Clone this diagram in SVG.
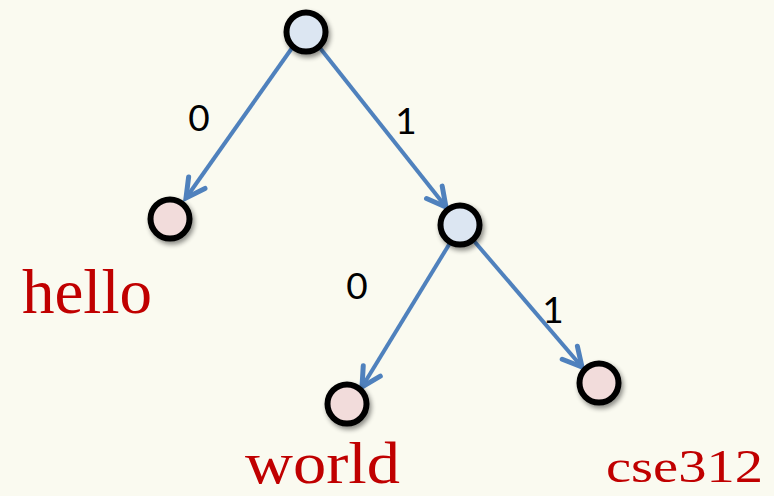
<svg xmlns="http://www.w3.org/2000/svg" width="774" height="496" viewBox="0 0 774 496">
<style>
.node circle{stroke:#000;stroke-width:6;filter:url(#sh)}
.inner circle{fill:#dce6f2}
.leaf circle{fill:#f2dcdb}
.edge{stroke:#4f81bd;stroke-width:4;fill:none;marker-end:url(#arr)}
.bit{font-family:"Lato","Liberation Sans",sans-serif;font-size:37px;fill:#000;text-anchor:middle}
.word{font-family:"Liberation Serif","DejaVu Serif",serif;fill:#c00000}
</style>
<defs>
<filter id="sh" x="-50%" y="-50%" width="200%" height="200%">
<feGaussianBlur in="SourceAlpha" stdDeviation="2.5"/>
<feOffset dx="2" dy="3" result="b"/>
<feComponentTransfer><feFuncA type="linear" slope="0.45"/></feComponentTransfer>
<feMerge><feMergeNode/><feMergeNode in="SourceGraphic"/></feMerge>
</filter>
<marker id="arr" markerUnits="userSpaceOnUse" markerWidth="30" markerHeight="30" viewBox="-20 -10 24 20" refX="0" refY="0" orient="auto">
<path d="M-15,-8 L0,0 L-15,8" fill="none" stroke="#4f81bd" stroke-width="4" stroke-linecap="round" stroke-linejoin="miter"/>
</marker>
</defs>
<rect width="774" height="496" fill="#fafaf0"/>
<g id="connectors">
<line class="edge" x1="292" y1="48" x2="186" y2="198"/>
<line class="edge" x1="320" y1="48" x2="446" y2="207"/>
<line class="edge" x1="450" y1="243" x2="362" y2="387"/>
<line class="edge" x1="474" y1="241" x2="582" y2="367"/>
</g>
<g id="edge-labels">
<text class="bit" x="199" y="131">0</text>
<text class="bit" x="406" y="134">1</text>
<text class="bit" x="357" y="299">0</text>
<text class="bit" x="553" y="323">1</text>
</g>
<g id="root" class="node inner"><circle cx="306" cy="32" r="19.5"/></g>
<g id="n1" class="node inner"><circle cx="460" cy="225" r="19.5"/></g>
<g id="hello" class="node leaf"><circle cx="170" cy="219" r="19.5"/>
<text class="word" x="22" y="313" font-size="63" textLength="130" lengthAdjust="spacingAndGlyphs">hello</text></g>
<g id="world" class="node leaf"><circle cx="347" cy="404" r="19.5"/>
<text class="word" x="245" y="483" font-size="60" textLength="155" lengthAdjust="spacingAndGlyphs">world</text></g>
<g id="cse312" class="node leaf"><circle cx="599" cy="383" r="19.5"/>
<text class="word" x="606" y="482" font-size="47" textLength="157" lengthAdjust="spacingAndGlyphs">cse312</text></g>
</svg>
